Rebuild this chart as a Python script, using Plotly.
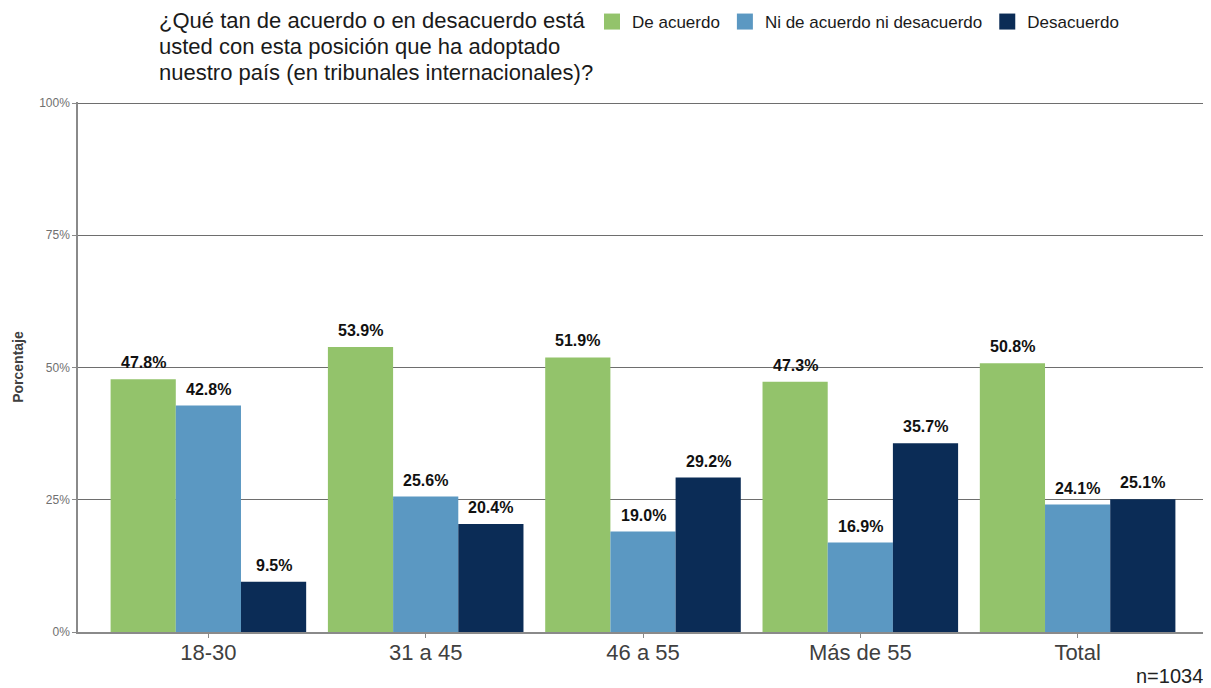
import plotly.graph_objects as go

categories = ["18-30", "31 a 45", "46 a 55", "Más de 55", "Total"]
series_names = ["De acuerdo", "Ni de acuerdo ni desacuerdo", "Desacuerdo"]
de_acuerdo = [47.8, 53.9, 51.9, 47.3, 50.8]
ni_ni = [42.8, 25.6, 19.0, 16.9, 24.1]
desacuerdo = [9.5, 20.4, 29.2, 35.7, 25.1]
y_ticks = [0, 25, 50, 75, 100]
y_tick_labels = ["0%", "25%", "50%", "75%", "100%"]
title_lines = ["¿Qué tan de acuerdo o en desacuerdo está",
               "usted con esta posición que ha adoptado",
               "nuestro país (en tribunales internacionales)?"]

colors = ["#93C36B", "#5B98C2", "#0B2C56"]
series = [de_acuerdo, ni_ni, desacuerdo]
FONT = "Liberation Sans, Arial, sans-serif"

# page has an 8px body margin -> figure is drawn 8px in from top-left
OFF = 8
W, H = 1211 - OFF, 688 - OFF
ml, mr, mt, mb = 78 - OFF, 3, 102 - OFF, 56
pw = W - ml - mr
ph = H - mt - mb

def px_x(x):  # page x pixel -> paper x
    return (x - OFF - ml) / pw

def px_y(y):  # page y pixel -> paper y
    return 1 - (y - OFF - mt) / ph

fig = go.Figure()
for name, vals, col in zip(series_names, series, colors):
    fig.add_trace(go.Bar(
        x=categories, y=vals, name=name, marker=dict(color=col, line=dict(width=0)),
        showlegend=False, hoverinfo="x+y",
    ))
    fig.add_trace(go.Scatter(
        x=[None], y=[None], mode="markers", name=name,
        marker=dict(symbol="square", size=24, color=col),
    ))

bar_px = pw / 5.2 * 0.9 / 3
for i, vals in enumerate(series):
    for c, v in zip(categories, vals):
        fig.add_annotation(
            x=c, y=v, text=f"<b>{v:.1f}%</b>", showarrow=False,
            xshift=(i - 1) * bar_px, yshift=6, yanchor="bottom",
            font=dict(family=FONT, size=16, color="#111111"),
        )

for k, line in enumerate(title_lines):
    fig.add_annotation(
        xref="paper", yref="paper", x=px_x(157), y=px_y(20 + 26 * k),
        xanchor="left", yanchor="middle", align="left", showarrow=False,
        text=line, font=dict(family=FONT, size=22, color="#1a1a1a"),
    )

fig.add_annotation(
    xref="paper", yref="paper", x=px_x(1205), y=px_y(676),
    xanchor="right", yanchor="middle", showarrow=False, text="n=1034",
    font=dict(family=FONT, size=20, color="#222222"),
)

fig.update_layout(
    width=W, height=H,
    margin=dict(l=ml, r=mr, t=mt, b=mb, autoexpand=False),
    paper_bgcolor="white", plot_bgcolor="white",
    barmode="group", bargap=0.1, bargroupgap=0,
    font=dict(family=FONT),
    legend=dict(
        orientation="h", x=px_x(592), xanchor="left",
        y=px_y(22), yanchor="middle",
        font=dict(size=17, color="#1a1a1a"), itemsizing="trace",
        bgcolor="rgba(0,0,0,0)",
    ),
    xaxis=dict(
        range=[-0.6, 4.6], showgrid=False, showline=True, linecolor="#8a8a8a", linewidth=1.5,
        ticks="outside", ticklen=4, tickcolor="#8a8a8a",
        tickfont=dict(size=22, color="#404040"), ticklabelstandoff=-4,
    ),
    yaxis=dict(
        range=[0, 100.2], tickvals=y_ticks, ticktext=y_tick_labels,
        showgrid=True, gridcolor="#6e6e6e", gridwidth=1.2,
        showline=True, linecolor="#8a8a8a", linewidth=1.5, zeroline=False,
        ticks="outside", ticklen=4, tickcolor="#8a8a8a",
        tickfont=dict(size=12, color="#707070"),
        title=dict(text="<b>Porcentaje</b>", font=dict(size=14, color="#404040"), standoff=12),
    ),
)

fig.write_html("out.html")
